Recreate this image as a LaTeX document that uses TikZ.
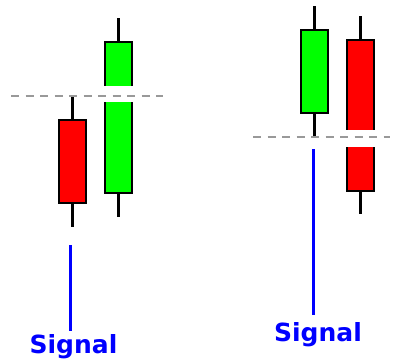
\documentclass[tikz,border=0pt]{standalone}
\usepackage{fontspec}
\newfontfamily\sigfont{DejaVu Sans}
\begin{document}
\begin{tikzpicture}[x=1pt,y=-1pt,
  body/.style={draw=black,line width=2.5pt,inner sep=0pt,outer sep=0pt,minimum width=27pt},
  redbody/.style={body,fill=red},
  greenbody/.style={body,fill=green},
  wick/.style={draw=black,line width=2.5pt},
  gapband/.style={fill=white,draw=none},
  level/.style={draw=black!40,line width=2.5pt,dash pattern=on 8pt off 6.5pt},
  sigline/.style={draw=blue,line width=3pt},
  siglabel/.style={text=blue,font=\sigfont\bfseries\fontsize{25}{29}\selectfont,inner sep=0pt,anchor=base}]
\useasboundingbox (0,0) rectangle (397,360);
% left pair
\coordinate (r1top) at (72.5,97);
\coordinate (r1bot) at (72.5,227);
\coordinate (g1top) at (118.5,18);
\coordinate (g1bot) at (118.5,217);
\draw[wick] (r1top) -- (r1bot);
\draw[wick] (g1top) -- (g1bot);
\node[redbody,minimum height=83pt] (r1) at (72.5,161.5) {};
\node[greenbody,minimum height=151pt] (g1) at (118.5,117.5) {};
\fill[gapband] (103,86) rectangle (134,102);
\coordinate (d1a) at (11,96);
\coordinate (d1b) at (163,96);
\draw[level] (d1a) -- (d1b);
\coordinate (s1top) at (70,245);
\coordinate (s1bot) at (70,331);
\draw[sigline] (s1top) -- (s1bot);
\node[siglabel] (t1) at (73.5,353) {Signal};
% right pair
\coordinate (g2top) at (314.5,6);
\coordinate (g2bot) at (314.5,137);
\coordinate (r2top) at (360.5,16);
\coordinate (r2bot) at (360.5,214);
\draw[wick] (g2top) -- (g2bot);
\draw[wick] (r2top) -- (r2bot);
\node[greenbody,minimum height=83pt] (g2) at (314.5,71.5) {};
\node[redbody,minimum height=151pt] (r2) at (360.5,115.5) {};
\fill[gapband] (345,130) rectangle (376,147);
\coordinate (d2a) at (253,137);
\coordinate (d2b) at (390,137);
\draw[level] (d2a) -- (d2b);
\coordinate (s2top) at (313,149);
\coordinate (s2bot) at (313,315);
\draw[sigline] (s2top) -- (s2bot);
\node[siglabel] (t2) at (318,341) {Signal};
\end{tikzpicture}
\end{document}
